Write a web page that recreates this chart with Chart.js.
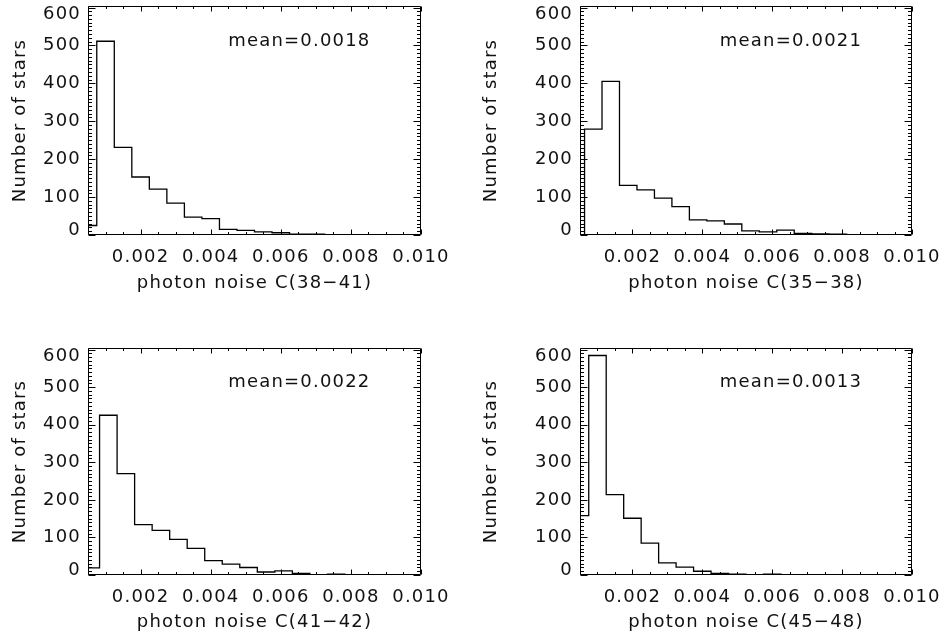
<!DOCTYPE html>
<html>
<head>
<meta charset="utf-8">
<title>photon noise histograms</title>
<script src="https://cdn.jsdelivr.net/npm/chart.js@4.4.1/dist/chart.umd.min.js"></script>
<style>
  body { margin: 0; background: #fff; }
  #wrap { position: relative; width: 942px; height: 638px; }
  #wrap canvas { position: absolute; }
</style>
</head>
<body>
<div id="wrap">
  <canvas id="c1" width="471" height="319" style="left:0;top:0"></canvas>
  <canvas id="c2" width="471" height="319" style="left:471px;top:0"></canvas>
  <canvas id="c3" width="471" height="319" style="left:0;top:319px"></canvas>
  <canvas id="c4" width="471" height="319" style="left:471px;top:319px"></canvas>
</div>
<script>
// bin centres and star counts
const binWidth = 0.0005;

const centers1 = [0.0005, 0.0010, 0.0015, 0.0020, 0.0025, 0.0030, 0.0035, 0.0040, 0.0045,
                  0.0050, 0.0055, 0.0060, 0.0065, 0.0070, 0.0075, 0.0080, 0.0085];
const counts1  = [25, 511, 231, 153, 121, 84, 47, 43, 15, 12, 8, 6, 2, 2, 1, 1, 1];

const centers2 = [0.00088, 0.00138, 0.00188, 0.00238, 0.00288, 0.00338, 0.00388, 0.00438, 0.00488,
                  0.00538, 0.00588, 0.00638, 0.00688, 0.00738, 0.00788, 0.00838, 0.00888, 0.00938];
const counts2  = [279, 405, 131, 119, 97, 75, 40, 37, 29, 11, 8, 13, 4, 3, 2, 1, 1, 1];

const centers3 = [0.00058, 0.00108, 0.00158, 0.00208, 0.00258, 0.00308, 0.00358, 0.00408,
                  0.00458, 0.00508, 0.00558, 0.00608, 0.00658, 0.00708, 0.00758, 0.00808];
const counts3  = [19, 425, 270, 134, 119, 95, 71, 38, 29, 20, 8, 11, 4, 1, 2, 1];

const centers4 = [0.0005, 0.0010, 0.0015, 0.0020, 0.0025, 0.0030, 0.0035, 0.0040,
                  0.0045, 0.0050, 0.0055, 0.0060, 0.0065];
const counts4  = [158, 584, 214, 151, 85, 32, 21, 10, 4, 2, 1, 2, 1];

const xTickVals = [0.002, 0.004, 0.006, 0.008, 0.010];
const yTickVals = [0, 100, 200, 300, 400, 500, 600];
const xTitles = ['photon noise C(38−41)', 'photon noise C(35−38)', 'photon noise C(41−42)', 'photon noise C(45−48)'];
const meanLabels = ['mean=0.0018', 'mean=0.0021', 'mean=0.0022', 'mean=0.0013'];
const meanAt = [0.0045, 512]; // data position of the mean text

const FONT = { family: "'DejaVu Sans', sans-serif", size: 18, weight: 'normal' };
const INK = '#111';

// IDL style box: frame on all four sides with inward major/minor ticks,
// y labels kept inside the frame at the ends, and the mean label
const idlFrame = {
  id: 'idlFrame',
  beforeDraw(chart) { chart.ctx.letterSpacing = '1.2px'; },
  afterDraw(chart, args, opts) {
    const { ctx, chartArea: a, scales: { x, y } } = chart;
    const L = Math.round(a.left) + 0.5, R = Math.round(a.right) - 0.5;
    const T = Math.round(a.top) + 0.5, B = Math.round(a.bottom) - 0.5;
    ctx.save();
    ctx.strokeStyle = '#000';
    ctx.lineWidth = 1;
    ctx.beginPath();
    ctx.rect(L, T, R - L, B - T);
    for (let i = 1; i <= 20; i++) {
      const px = Math.round(x.getPixelForValue(i * 0.0005)) + 0.5;
      const len = i % 4 === 0 ? 5 : 2.5;
      ctx.moveTo(px, B); ctx.lineTo(px, B - len);
      ctx.moveTo(px, T); ctx.lineTo(px, T + len);
    }
    for (let i = 0; i <= 60; i++) {
      const py = Math.round(y.getPixelForValue(i * 10)) + 0.5;
      const len = i % 10 === 0 ? 7 : 3.5;
      ctx.moveTo(L, py); ctx.lineTo(L + len, py);
      ctx.moveTo(R, py); ctx.lineTo(R - len, py);
    }
    ctx.stroke();

    ctx.fillStyle = INK;
    ctx.font = FONT.size + 'px ' + FONT.family;
    ctx.textBaseline = 'middle';
    ctx.textAlign = 'right';
    yTickVals.forEach(v => {
      const py = Math.min(Math.max(y.getPixelForValue(v), a.top + 8.5), a.bottom - 5);
      ctx.fillText(String(v), a.left - 7, py);
    });
    ctx.textAlign = 'left';
    ctx.fillText(opts.mean, x.getPixelForValue(meanAt[0]), y.getPixelForValue(meanAt[1]));
    ctx.restore();
  }
};

function makeHist(id, centers, counts, xTitle, mean, box) {
  const canvas = document.getElementById(id);
  const W = canvas.width, H = canvas.height;
  const pts = centers.map((c, i) => ({ x: c, y: counts[i] }));
  // empty bins either side so the outline drops to zero (like plothist)
  pts.unshift({ x: centers[0] - binWidth, y: 0 });
  pts.push({ x: centers[centers.length - 1] + binWidth, y: 0 });

  return new Chart(canvas, {
    type: 'line',
    data: {
      datasets: [{
        data: pts,
        stepped: 'middle',
        borderColor: '#000',
        borderWidth: 1.3,
        pointRadius: 0,
        fill: false
      }]
    },
    options: {
      responsive: false,
      animation: false,
      events: [],
      layout: { padding: { top: box.top, right: W - box.right, left: 0, bottom: 0 } },
      plugins: {
        legend: { display: false },
        tooltip: { enabled: false },
        idlFrame: { mean: mean }
      },
      scales: {
        x: {
          type: 'linear',
          min: 0.0005,
          max: 0.010,
          afterBuildTicks: s => { s.ticks = xTickVals.map(v => ({ value: v })); },
          afterFit: s => { s.height = H - box.bottom; s.paddingLeft = 0; s.paddingRight = 0; },
          grid: { display: false, drawTicks: false },
          border: { display: false },
          ticks: { callback: v => v.toFixed(3), padding: 12, font: FONT, color: INK, maxRotation: 0, autoSkip: false },
          title: { display: true, text: xTitle, font: FONT, color: INK, padding: { top: 0, bottom: box.titlePad } }
        },
        y: {
          min: 0,
          max: 604,
          afterBuildTicks: s => { s.ticks = yTickVals.map(v => ({ value: v })); },
          afterFit: s => { s.width = box.left; s.paddingTop = 0; s.paddingBottom = 0; },
          grid: { display: false, drawTicks: false },
          border: { display: false },
          ticks: { display: false },
          title: { display: true, text: 'Number of stars', font: FONT, color: INK, padding: { top: 10, bottom: 0 } }
        }
      }
    },
    plugins: [idlFrame]
  });
}

makeHist('c1', centers1, counts1, xTitles[0], meanLabels[0], { left: 88, top: 6, right: 421, bottom: 235, titlePad: 25 });
makeHist('c2', centers2, counts2, xTitles[1], meanLabels[1], { left: 109, top: 6, right: 441, bottom: 235, titlePad: 25 });
makeHist('c3', centers3, counts3, xTitles[2], meanLabels[2], { left: 88, top: 29, right: 421, bottom: 256, titlePad: 5 });
makeHist('c4', centers4, counts4, xTitles[3], meanLabels[3], { left: 109, top: 29, right: 441, bottom: 256, titlePad: 5 });
</script>
</body>
</html>
